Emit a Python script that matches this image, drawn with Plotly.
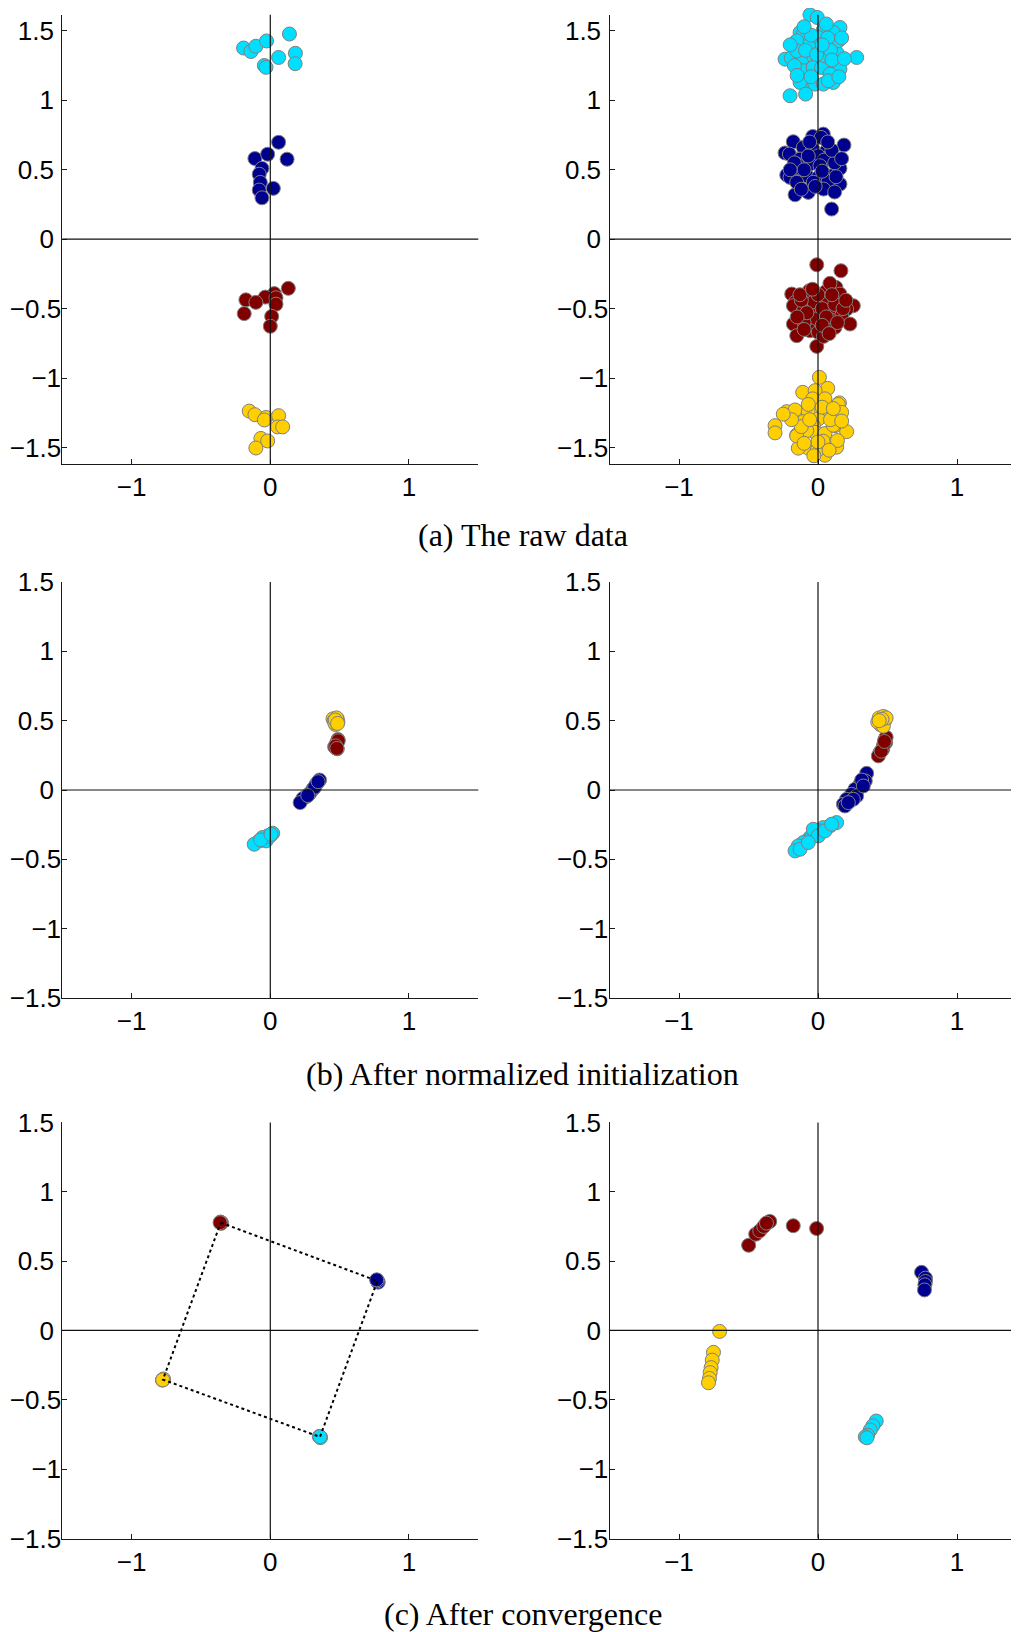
import plotly.graph_objects as go

# ---------------- data ----------------
# (a) raw data, left (few samples)
A_L_CYAN = [(-0.193, 1.377), (-0.140, 1.352), (-0.104, 1.390), (-0.027, 1.428), (0.138, 1.478),
            (0.060, 1.309), (0.181, 1.339), (0.179, 1.264), (-0.043, 1.251), (-0.031, 1.238)]
A_L_NAVY = [(0.060, 0.698), (-0.111, 0.581), (-0.019, 0.612), (0.121, 0.576), (-0.060, 0.510),
            (-0.080, 0.468), (-0.072, 0.409), (-0.080, 0.354), (0.022, 0.366), (-0.060, 0.298)]
A_L_RED = [(0.130, -0.354), (0.029, -0.392), (-0.036, -0.417), (0.041, -0.422), (-0.176, -0.437),
           (-0.104, -0.455), (0.041, -0.468), (-0.188, -0.536), (0.010, -0.556), (0.000, -0.627)]
A_L_YELLOW = [(-0.152, -1.238), (-0.111, -1.264), (-0.031, -1.284), (0.060, -1.271), (-0.043, -1.302),
              (0.053, -1.352), (0.089, -1.352), (-0.068, -1.435), (-0.019, -1.453), (-0.104, -1.504)]

# (a) raw data, right (many samples)
A_R_CYAN = [(-0.058, 1.616), (0.014, 1.626), (-0.005, 1.597), (0.158, 1.525), (0.038, 1.506),
            (-0.129, 1.489), (-0.106, 1.477), (-0.153, 1.429), (-0.058, 1.405), (0.002, 1.453),
            (0.110, 1.489), (0.122, 1.405), (0.026, 1.369), (0.139, 1.338), (0.278, 1.309),
            (-0.237, 1.297), (-0.192, 1.305), (-0.106, 1.309), (-0.034, 1.321), (0.014, 1.285),
            (0.134, 1.273), (0.074, 1.261), (-0.106, 1.213), (-0.034, 1.237), (0.026, 1.237),
            (0.158, 1.225), (0.086, 1.189), (-0.081, 1.141), (-0.129, 1.129), (-0.022, 1.117),
            (0.038, 1.117), (0.110, 1.129), (-0.201, 1.033), (-0.089, 1.045), (0.050, 1.405),
            (0.050, 1.321), (-0.153, 1.357), (0.074, 1.141), (0.146, 1.429),
            (-0.170, 1.250), (-0.050, 1.470), (0.070, 1.450), (0.090, 1.360), (-0.090, 1.360),
            (-0.010, 1.330), (0.100, 1.290), (-0.150, 1.180), (0.150, 1.170), (-0.050, 1.170),
            (0.030, 1.400), (0.170, 1.450), (-0.200, 1.400), (0.060, 1.550), (-0.100, 1.530),
            (0.190, 1.300)]
A_R_NAVY = [(0.038, 0.757), (-0.038, 0.740), (0.022, 0.733), (-0.178, 0.702), (0.187, 0.678),
            (-0.106, 0.661), (-0.237, 0.621), (-0.206, 0.613), (-0.038, 0.649), (0.062, 0.637),
            (0.074, 0.589), (-0.129, 0.577), (0.002, 0.601), (0.146, 0.577), (-0.058, 0.541),
            (0.044, 0.570), (-0.129, 0.510), (0.158, 0.510), (-0.225, 0.462), (-0.201, 0.445),
            (-0.081, 0.457), (0.002, 0.445), (0.098, 0.457), (0.158, 0.397), (0.074, 0.421),
            (-0.070, 0.337), (-0.165, 0.320), (0.040, 0.361), (0.098, 0.217), (-0.153, 0.541),
            (0.014, 0.529), (-0.153, 0.410), (-0.034, 0.410),
            (-0.170, 0.550), (-0.100, 0.500), (0.030, 0.490), (0.120, 0.550), (0.100, 0.640),
            (-0.070, 0.600), (-0.200, 0.500), (0.130, 0.450), (-0.020, 0.380), (0.120, 0.340),
            (-0.120, 0.360), (-0.060, 0.700), (0.070, 0.700), (0.170, 0.580)]
A_R_RED = [(-0.009, -0.184), (0.165, -0.227), (-0.189, -0.395), (-0.062, -0.371), (0.058, -0.376),
           (0.129, -0.347), (0.086, -0.318), (-0.165, -0.455), (-0.177, -0.479), (-0.045, -0.479),
           (0.062, -0.443), (0.158, -0.395), (0.254, -0.479), (0.206, -0.503), (-0.105, -0.515),
           (0.002, -0.527), (0.110, -0.534), (0.170, -0.551), (-0.021, -0.575), (-0.177, -0.611),
           (0.230, -0.611), (0.062, -0.623), (-0.057, -0.659), (0.002, -0.671), (-0.153, -0.695),
           (0.122, -0.635), (-0.009, -0.772), (0.040, -0.700), (-0.100, -0.600), (0.090, -0.580),
           (-0.030, -0.450), (0.030, -0.500), (-0.120, -0.440), (0.120, -0.470),
           (-0.130, -0.400), (0.000, -0.400), (-0.080, -0.530), (0.060, -0.560), (0.180, -0.500),
           (-0.150, -0.560), (0.030, -0.620), (-0.100, -0.650), (0.100, -0.400), (0.140, -0.600),
           (-0.040, -0.360), (0.200, -0.440), (0.080, -0.680)]
A_R_YELLOW = [(0.010, -0.995), (0.070, -1.074), (-0.110, -1.103), (-0.021, -1.091), (-0.038, -1.150),
              (0.050, -1.150), (0.154, -1.179), (0.146, -1.190), (-0.225, -1.242), (-0.165, -1.230),
              (-0.070, -1.247), (0.086, -1.242), (0.170, -1.247), (-0.105, -1.314), (0.002, -1.295),
              (-0.309, -1.343), (-0.309, -1.395), (0.122, -1.343), (-0.033, -1.343), (-0.021, -1.391),
              (0.206, -1.386), (-0.153, -1.410), (-0.081, -1.379), (0.050, -1.400), (0.050, -1.556),
              (-0.070, -1.505), (0.134, -1.498), (-0.142, -1.505), (-0.005, -1.518), (0.037, -1.455),
              (-0.153, -1.417), (0.110, -1.340),
              (-0.120, -1.350), (-0.060, -1.300), (0.090, -1.300), (0.140, -1.450), (-0.190, -1.300),
              (0.000, -1.460), (-0.100, -1.470), (0.030, -1.210), (-0.070, -1.190), (0.110, -1.220),
              (0.170, -1.310), (-0.250, -1.260), (0.080, -1.520), (-0.030, -1.560)]

# (b) after normalized initialization
B_L_CYAN = [(0.017, -0.312), (-0.019, -0.331), (-0.043, -0.355), (-0.031, -0.367), (-0.080, -0.367),
            (-0.116, -0.391), (-0.056, -0.343), (-0.005, -0.335), (-0.070, -0.360), (0.005, -0.320)]
B_L_NAVY = [(0.355, 0.072), (0.331, 0.041), (0.307, 0.005), (0.283, -0.026), (0.258, -0.048),
            (0.234, -0.062), (0.215, -0.091), (0.320, 0.020), (0.270, -0.040), (0.345, 0.060)]
B_L_RED = [(0.488, 0.364), (0.483, 0.345), (0.476, 0.324), (0.471, 0.304), (0.464, 0.312),
           (0.483, 0.297), (0.478, 0.335), (0.490, 0.355), (0.472, 0.318), (0.480, 0.300)]
B_L_YELLOW = [(0.452, 0.513), (0.483, 0.513), (0.471, 0.472), (0.488, 0.491), (0.460, 0.500),
              (0.475, 0.500), (0.465, 0.485), (0.478, 0.520), (0.468, 0.505), (0.485, 0.480)]

B_R_CYAN = [(0.134, -0.235), (0.086, -0.259), (0.038, -0.271), (0.014, -0.295), (-0.022, -0.319),
            (-0.058, -0.343), (-0.082, -0.367), (-0.106, -0.379), (-0.142, -0.403), (-0.165, -0.439),
            (-0.129, -0.427), (-0.034, -0.283), (0.002, -0.331), (0.050, -0.295), (-0.070, -0.379),
            (0.098, -0.247)]
B_R_NAVY = [(0.350, 0.120), (0.340, 0.065), (0.302, 0.041), (0.266, 0.005), (0.242, -0.031),
            (0.206, -0.067), (0.183, -0.103), (0.194, -0.115), (0.278, -0.043), (0.314, 0.072),
            (0.254, -0.067), (0.218, -0.091), (0.326, 0.029)]
B_R_RED = [(0.482, 0.366), (0.487, 0.342), (0.470, 0.318), (0.465, 0.294), (0.446, 0.270),
           (0.434, 0.246), (0.475, 0.330), (0.455, 0.280), (0.490, 0.380), (0.478, 0.350)]
B_R_YELLOW = [(0.458, 0.498), (0.440, 0.520), (0.470, 0.530), (0.480, 0.500), (0.450, 0.470),
              (0.430, 0.490), (0.470, 0.460), (0.490, 0.520), (0.460, 0.510), (0.440, 0.500)]

# (c) after convergence
C_L_CYAN = [(0.357, -0.767), (0.360, -0.770), (0.354, -0.764), (0.362, -0.772), (0.358, -0.766)]
C_L_NAVY = [(0.770, 0.362), (0.775, 0.352), (0.778, 0.348), (0.772, 0.357), (0.767, 0.365)]
C_L_RED = [(-0.357, 0.779), (-0.352, 0.776), (-0.360, 0.782), (-0.355, 0.772), (-0.362, 0.777)]
C_L_YELLOW = [(-0.775, -0.355), (-0.772, -0.352), (-0.778, -0.358), (-0.770, -0.350), (-0.776, -0.356)]

C_R_CYAN = [(0.419, -0.653), (0.395, -0.687), (0.376, -0.718), (0.357, -0.755), (0.340, -0.767),
            (0.352, -0.774)]
C_R_NAVY = [(0.745, 0.419), (0.773, 0.377), (0.773, 0.353), (0.769, 0.329), (0.766, 0.292)]
C_R_RED = [(-0.499, 0.614), (-0.448, 0.694), (-0.419, 0.718), (-0.390, 0.750), (-0.359, 0.779),
           (-0.347, 0.786), (-0.371, 0.774), (-0.178, 0.755), (-0.010, 0.735)]
C_R_YELLOW = [(-0.708, -0.007), (-0.752, -0.158), (-0.761, -0.214), (-0.769, -0.268), (-0.776, -0.304),
              (-0.781, -0.346), (-0.788, -0.377)]

TICK_VALS_Y = [-1.5, -1, -0.5, 0, 0.5, 1, 1.5]
# non-negative labels carry a trailing no-break space: in the reference the minus-signed
# labels sit closer to the axis than the unsigned ones
TICK_TEXT_Y = ["\u22121.5", "\u22121", "\u22120.5", "0\u00a0", "0.5\u00a0", "1\u00a0", "1.5\u00a0"]
TICK_VALS_X = [-1, 0, 1]
TICK_TEXT_X = ["\u22121", "0", "1"]

CAPTIONS = ["(a) The raw data", "(b) After normalized initialization", "(c) After convergence"]

COLORS = {"cyan": "#00DFFF", "navy": "#00008F", "red": "#800000", "yellow": "#FFCF00"}

# ---------------- layout geometry (px in the page; page body has an 8px margin) ----------------
W, H = 1019, 1632
OFF = 8
ROWS = [  # (top px, bottom px, y range)
    (14.7, 463.7, [-1.617, 1.617]),
    (582.0, 998.0, [-1.5, 1.5]),
    (1122.4, 1538.5, [-1.5, 1.5]),
]
COLS = [  # (left px, right px, x range)
    (62.3, 478.3, [-1.5, 1.5]),
    (609.5, 1019.0 + OFF, [-1.5, -1.5 + (1019.0 + OFF - 609.5) / 139.0]),
]
CAPTION_Y = [535, 1074, 1614]
CAPTION_X = 522.5

PANELS = [
    [(A_L_CYAN, "cyan"), (A_L_NAVY, "navy"), (A_L_RED, "red"), (A_L_YELLOW, "yellow")],
    [(A_R_CYAN, "cyan"), (A_R_NAVY, "navy"), (A_R_RED, "red"), (A_R_YELLOW, "yellow")],
    [(B_L_CYAN, "cyan"), (B_L_NAVY, "navy"), (B_L_RED, "red"), (B_L_YELLOW, "yellow")],
    [(B_R_CYAN, "cyan"), (B_R_NAVY, "navy"), (B_R_RED, "red"), (B_R_YELLOW, "yellow")],
    [(C_L_CYAN, "cyan"), (C_L_NAVY, "navy"), (C_L_RED, "red"), (C_L_YELLOW, "yellow")],
    [(C_R_CYAN, "cyan"), (C_R_NAVY, "navy"), (C_R_RED, "red"), (C_R_YELLOW, "yellow")],
]

fig = go.Figure()
layout = dict(width=W, height=H, margin=dict(l=0, r=0, t=0, b=0, autoexpand=False),
              paper_bgcolor="white", plot_bgcolor="white", showlegend=False)
shapes = []
annotations = []

TICKFONT = dict(family="Liberation Sans, Arial, sans-serif", size=26, color="black")
AXCOL = "#1a1a1a"


def fx(px):
    return min(max((px - OFF) / W, 0.0), 1.0)


def fy(px):
    return min(max(1 - (px - OFF) / H, 0.0), 1.0)


for i, groups in enumerate(PANELS):
    r, c = divmod(i, 2)
    top, bot, yr = ROWS[r]
    left, right, xr = COLS[c]
    n = i + 1
    xa = "x" if n == 1 else f"x{n}"
    ya = "y" if n == 1 else f"y{n}"
    layout["xaxis" if n == 1 else f"xaxis{n}"] = dict(
        domain=[fx(left), fx(right)], range=xr, anchor=ya,
        showgrid=False, zeroline=False, showline=True, linecolor=AXCOL, linewidth=1,
        ticks="inside", ticklen=5, tickwidth=1, tickcolor=AXCOL,
        tickvals=TICK_VALS_X, ticktext=TICK_TEXT_X, tickfont=TICKFONT,
        ticklabelstandoff=0, fixedrange=True)
    layout["yaxis" if n == 1 else f"yaxis{n}"] = dict(
        domain=[fy(bot), fy(top)], range=yr, anchor=xa,
        showgrid=False, zeroline=False, showline=True, linecolor=AXCOL, linewidth=1,
        ticks="inside", ticklen=5, tickwidth=1, tickcolor=AXCOL,
        tickvals=TICK_VALS_Y, ticktext=TICK_TEXT_Y, tickfont=TICKFONT,
        ticklabelstandoff=-5, fixedrange=True)
    for pts, col in groups:
        fig.add_trace(go.Scatter(
            x=[p[0] for p in pts], y=[p[1] for p in pts], mode="markers",
            xaxis=xa, yaxis=ya, cliponaxis=False, hoverinfo="skip",
            marker=dict(size=14, color=COLORS[col], line=dict(color="#808080", width=1))))
    # axes through the origin, drawn over the markers
    shapes.append(dict(type="line", xref=f"{xa} domain", yref=ya, x0=0, x1=1, y0=0, y1=0,
                       line=dict(color="#111111", width=1.2), layer="above"))
    shapes.append(dict(type="line", xref=xa, yref=f"{ya} domain", x0=0, x1=0, y0=0, y1=1,
                       line=dict(color="#111111", width=1.2), layer="above"))
    if n == 5:
        # dotted polygon linking the converged cluster centres
        order = [C_L_RED, C_L_NAVY, C_L_CYAN, C_L_YELLOW, C_L_RED]
        cx = [sum(p[0] for p in g) / len(g) for g in order]
        cy = [sum(p[1] for p in g) / len(g) for g in order]
        fig.add_trace(go.Scatter(x=cx, y=cy, mode="lines", xaxis=xa, yaxis=ya,
                                 hoverinfo="skip",
                                 line=dict(color="black", width=2, dash="dot")))

for cap, cyp in zip(CAPTIONS, CAPTION_Y):
    annotations.append(dict(text=cap, xref="paper", yref="paper", x=fx(CAPTION_X), y=fy(cyp),
                            xanchor="center", yanchor="middle", showarrow=False,
                            font=dict(family="Liberation Serif, Times New Roman, serif",
                                      size=32, color="black")))

layout["shapes"] = shapes
layout["annotations"] = annotations
fig.update_layout(**layout)
fig.write_html("out.html")
